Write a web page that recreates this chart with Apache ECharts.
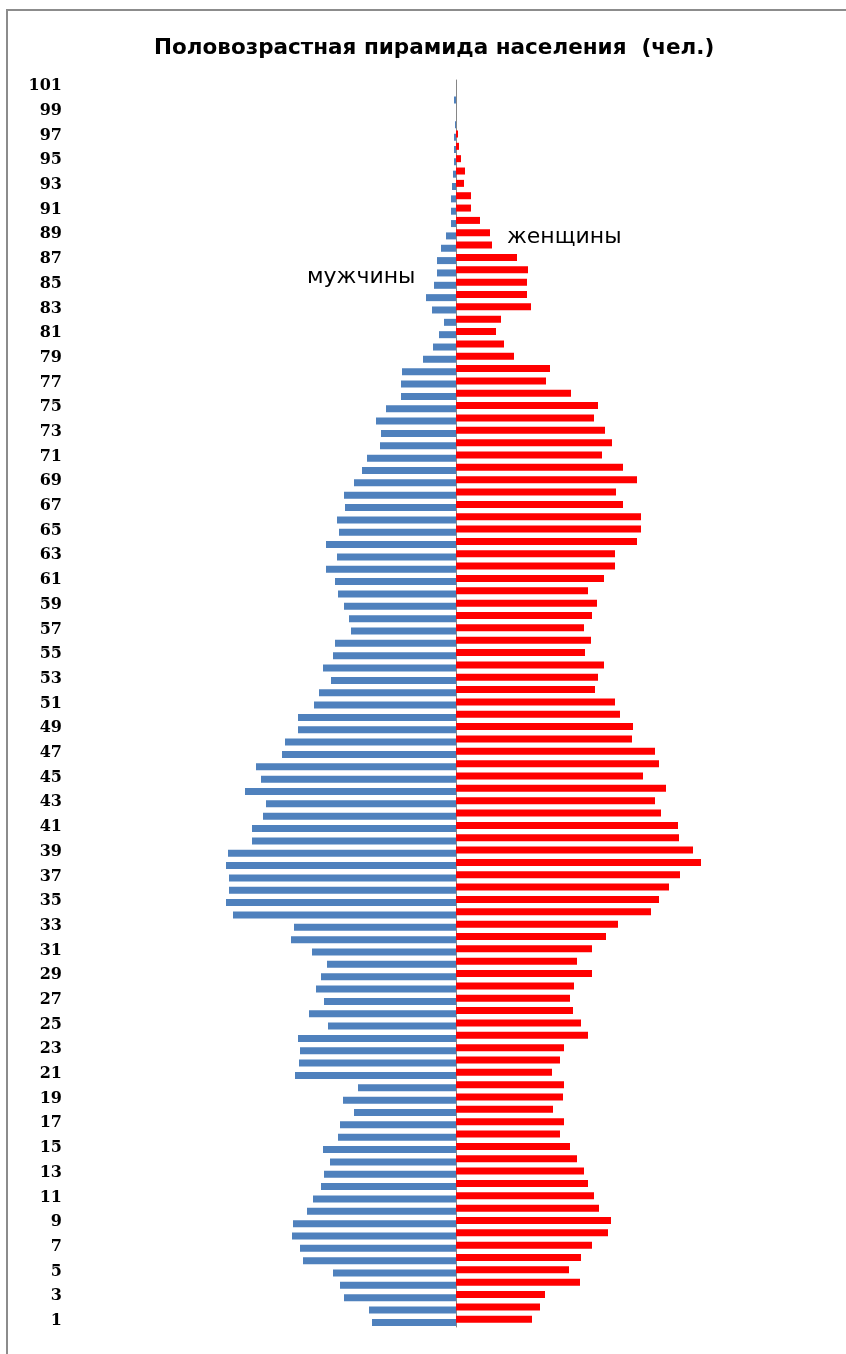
<!DOCTYPE html>
<html>
<head>
<meta charset="utf-8">
<title>Половозрастная пирамида</title>
<script src="https://cdn.jsdelivr.net/npm/echarts@6/dist/echarts.min.js"></script>
<style>
    html, body { margin: 0; padding: 0; background: #fff; }
    #chart { width: 846px; height: 1354px; }
</style>
</head>
<body>
<div id="chart"></div>
<script>
// возраст, лет
var ages = [];
for (var a = 1; a <= 101; a++) ages.push(String(a));

// мужчины, 1..101 лет
var men = [
    84, 87, 112, 116, 123, 153, 156, 164, 163, 149,
    143, 135, 132, 126, 133, 118, 116, 102, 113, 98,
    161, 157, 156, 158, 128, 147, 132, 140, 135, 129,
    144, 165, 162, 223, 230, 227, 227, 230, 228, 204,
    204, 193, 190, 211, 195, 200, 174, 171, 158, 158,
    142, 137, 125, 133, 123, 121, 105, 107, 112, 118,
    121, 130, 119, 130, 117, 119, 111, 112, 102, 94,
    89, 76, 75, 80, 70, 55, 55, 54, 33, 23,
    17, 12, 24, 30, 22, 19, 19, 15, 10, 5,
    5, 5, 4, 3, 2, 2, 2, 1, 0, 2,
    0
];

// женщины, 1..101 лет
var women = [
    76, 84, 89, 124, 113, 125, 136, 152, 155, 143,
    138, 132, 128, 121, 114, 104, 108, 97, 107, 108,
    96, 104, 108, 132, 125, 117, 114, 118, 136, 121,
    136, 150, 162, 195, 203, 213, 224, 245, 237, 223,
    222, 205, 199, 210, 187, 203, 199, 176, 177, 164,
    159, 139, 142, 148, 129, 135, 128, 136, 141, 132,
    148, 159, 159, 181, 185, 185, 167, 160, 181, 167,
    146, 156, 149, 138, 142, 115, 90, 94, 58, 48,
    40, 45, 75, 71, 71, 72, 61, 36, 34, 24,
    15, 15, 8, 9, 5, 3, 2, 0, 0, 0,
    0
];

(function () {
    var myChart = echarts.init(document.getElementById('chart'));

    var option = {
        animation: false,
        title: {
            text: 'Половозрастная пирамида населения  (чел.)',
            left: 149,
            top: 32,
            textStyle: {
                fontFamily: 'DejaVu Sans',
                fontWeight: 'bold',
                fontSize: 21.5,
                color: '#000'
            }
        },
        grid: {
            left: 70,
            right: 46,
            top: 80,
            bottom: 27
        },
        xAxis: {
            type: 'value',
            min: -386,
            max: 344,
            axisLine: { show: false },
            axisTick: { show: false },
            axisLabel: { show: false },
            splitLine: { show: false }
        },
        yAxis: [
            {
                // центральная ось
                type: 'category',
                data: ages,
                axisLine: {
                    onZero: true,
                    lineStyle: { color: '#868686', width: 1 }
                },
                axisTick: { show: false },
                axisLabel: { show: false }
            },
            {
                // подписи возрастов слева
                type: 'category',
                data: ages,
                position: 'left',
                axisLine: { show: false, onZero: false },
                axisTick: { show: false },
                axisLabel: {
                    interval: 1,
                    margin: 8,
                    fontFamily: 'DejaVu Serif',
                    fontWeight: 'bold',
                    fontSize: 16,
                    color: '#000'
                }
            }
        ],
        series: [
            {
                name: 'женщины',
                type: 'bar',
                yAxisIndex: 0,
                barWidth: 7,
                barGap: '-55%',
                itemStyle: { color: '#FF0000' },
                data: women
            },
            {
                name: 'мужчины',
                type: 'bar',
                yAxisIndex: 0,
                barWidth: 7,
                itemStyle: { color: '#4F81BD' },
                data: men.map(function (v) { return -v; })
            }
        ],
        graphic: [
            {
                type: 'polyline',
                shape: { points: [[7, 1354], [7, 10], [846, 10]] },
                style: { stroke: '#8c8c8c', lineWidth: 2, fill: null }
            },
            {
                type: 'text',
                left: 507,
                top: 226,
                style: {
                    text: 'женщины',
                    fontFamily: 'DejaVu Sans',
                    fontSize: 22,
                    fill: '#000'
                }
            },
            {
                type: 'text',
                left: 307,
                top: 266,
                style: {
                    text: 'мужчины',
                    fontFamily: 'DejaVu Sans',
                    fontSize: 22,
                    fill: '#000'
                }
            }
        ]
    };
    myChart.setOption(option);
    window.addEventListener('resize', function () {
        myChart.resize();
    })
})();
</script>
</body>
</html>
